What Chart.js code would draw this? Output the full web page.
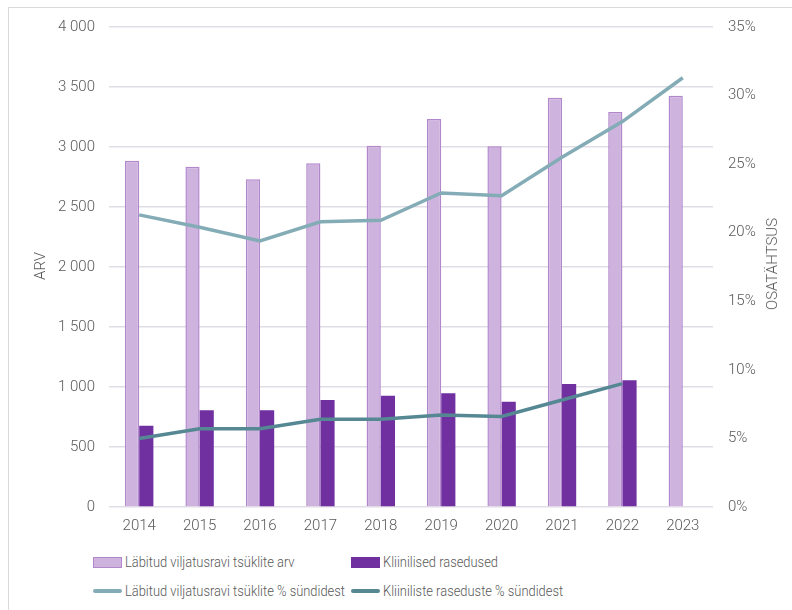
<!DOCTYPE html>
<html>
<head>
<meta charset="utf-8">
<script src="https://cdn.jsdelivr.net/npm/chart.js@4"></script>
<style>
  html, body { margin: 0; padding: 0; background: #fff; }
  body { width: 792px; height: 610px; position: relative; overflow: hidden; font-family: Roboto, sans-serif; font-weight: 300; color: #595959; }
  .frame { position: absolute; left: 8px; top: 7px; width: 900px; height: 700px; border: 1px solid #d9d9d9; }
  #wrap { position: absolute; left: 0; top: 0; width: 792px; height: 540px; }
  .axis-title { position: absolute; font-size: 15px; white-space: nowrap; transform: translate(-50%, -50%) rotate(-90deg); }
  .legend { position: absolute; font-size: 15px; display: flex; align-items: center; white-space: nowrap; }
  .legend .txt { display: inline-block; transform: scaleX(0.86); transform-origin: left center; }
  .sw-bar { width: 29px; height: 11px; margin-right: 3px; box-sizing: border-box; }
  .sw-line { width: 29px; height: 4px; border-radius: 2px; margin-right: 3px; }
</style>
</head>
<body>
<div class="frame"></div>
<div id="wrap"><canvas id="chart"></canvas></div>
<div class="axis-title" style="left:40px; top:266px;">ARV</div>
<div class="axis-title" style="left:772px; top:264px;">OSATÄHTSUS</div>

<div class="legend" style="left:93px; top:553px;"><span class="sw-bar" style="background:#cdb3dd; border:1.5px solid #b387cc;"></span><span class="txt">Läbitud viljatusravi tsüklite arv</span></div>
<div class="legend" style="left:351px; top:553px;"><span class="sw-bar" style="background:#7030a0;"></span><span class="txt">Kliinilised rasedused</span></div>
<div class="legend" style="left:93px; top:582px;"><span class="sw-line" style="background:#84acb6;"></span><span class="txt">Läbitud viljatusravi tsüklite % sündidest</span></div>
<div class="legend" style="left:351px; top:582px;"><span class="sw-line" style="background:#558893;"></span><span class="txt">Kliiniliste raseduste % sündidest</span></div>

<script>
// Categories and series
const years = ['2014', '2015', '2016', '2017', '2018', '2019', '2020', '2021', '2022', '2023'];
const cycles = [2886, 2836, 2731, 2864, 3011, 3233, 3006, 3411, 3292, 3428];
const pregnancies = [678, 806, 806, 892, 928, 947, 878, 1025, 1056, null];
const cyclesPct = [21.3, 20.4, 19.4, 20.8, 20.9, 22.9, 22.7, 25.5, 28.1, 31.3];
const pregnanciesPct = [5.0, 5.7, 5.7, 6.4, 6.4, 6.7, 6.6, 7.8, 9.0, null];

const leftTicks = [0, 500, 1000, 1500, 2000, 2500, 3000, 3500, 4000];
const rightTicks = [0, 5, 10, 15, 20, 25, 30, 35];

const grey = '#595959';
const tickFont = { family: 'Roboto', size: 15, weight: '300' };

const ctx = document.getElementById('chart').getContext('2d');
const myChart = new Chart(ctx, {
  type: 'bar',
  data: {
    labels: years,
    datasets: [
      {
        type: 'line',
        label: 'Läbitud viljatusravi tsüklite % sündidest',
        data: cyclesPct,
        yAxisID: 'y1',
        borderColor: '#84acb6',
        borderWidth: 3.5,
        pointRadius: 0,
        tension: 0,
        order: 0,
      },
      {
        type: 'line',
        label: 'Kliiniliste raseduste % sündidest',
        data: pregnanciesPct,
        yAxisID: 'y1',
        borderColor: '#558893',
        borderWidth: 3.5,
        pointRadius: 0,
        tension: 0,
        order: 0,
      },
      {
        label: 'Läbitud viljatusravi tsüklite arv',
        data: cycles,
        yAxisID: 'y',
        backgroundColor: '#cdb3dd',
        borderColor: '#b387cc',
        borderWidth: 1.5,
        order: 1,
      },
      {
        label: 'Kliinilised rasedused',
        data: pregnancies,
        yAxisID: 'y',
        backgroundColor: '#7030a0',
        borderWidth: 0,
        order: 1,
      }
    ]
  },
  options: {
    responsive: true,
    maintainAspectRatio: false,
    animation: false,
    layout: { padding: { top: 27, left: 0, right: 0, bottom: 0 } },
    datasets: {
      bar: { categoryPercentage: 0.47, barPercentage: 1 }
    },
    plugins: {
      legend: { display: false },
      tooltip: { enabled: false }
    },
    scales: {
      x: {
        grid: { display: false, drawTicks: false },
        border: { display: false },
        ticks: { color: grey, font: tickFont, padding: 10, maxRotation: 0 },
        afterFit: (scale) => { scale.height = 33; }
      },
      y: {
        position: 'left',
        min: 0,
        max: 4000,
        afterBuildTicks: (scale) => { scale.ticks = leftTicks.map(v => ({ value: v })); },
        ticks: {
          color: grey,
          font: tickFont,
          padding: 14,
          callback: (v) => v.toLocaleString('en-US').replace(/,/g, ' ')
        },
        grid: { color: '#e1dde6', lineWidth: 1.5, drawTicks: false },
        border: { display: false },
        afterFit: (scale) => { scale.width = 109; }
      },
      y1: {
        position: 'right',
        min: 0,
        max: 35,
        afterBuildTicks: (scale) => { scale.ticks = rightTicks.map(v => ({ value: v })); },
        ticks: {
          color: grey,
          font: tickFont,
          padding: 15,
          callback: (v) => v + '%'
        },
        grid: { display: false, drawTicks: false },
        border: { display: false },
        afterFit: (scale) => { scale.width = 79; }
      }
    }
  }
});
</script>
</body>
</html>
